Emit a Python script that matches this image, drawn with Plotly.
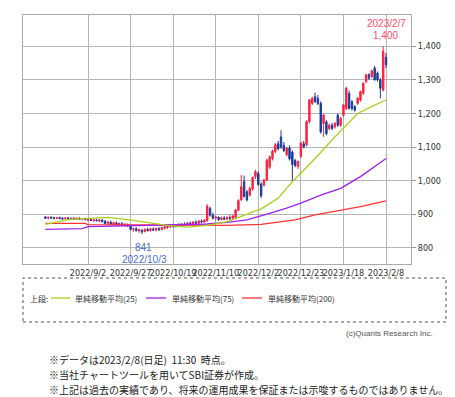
import pandas as pd
import plotly.graph_objects as go

# ---- trading calendar (TSE) ----
holidays = ["2022-09-19", "2022-09-23", "2022-10-10", "2022-11-03", "2022-11-23",
            "2023-01-02", "2023-01-03", "2023-01-09"]
days = [d for d in pd.bdate_range("2022-08-12", "2023-02-08") if d.strftime("%Y-%m-%d") not in holidays]
dates = [f"{d.year}/{d.month}/{d.day}" for d in days]

tick_dates = ["2022/9/2", "2022/9/27", "2022/10/19", "2022/11/10", "2022/12/2",
              "2022/12/23", "2023/1/18", "2023/2/8"]

# ---- OHLC ----
opens = [892, 889, 891, 890, 888, 890, 888, 887, 889, 887, 888, 886, 888, 886, 887,
         882, 884, 881, 883, 880, 882,
         879, 873, 876, 870, 874, 869, 872, 868, 869,
         864, 855, 857, 851, 852, 849, 855, 852, 856, 853, 857, 855, 859, 861, 863,
         866, 865, 868, 866, 870, 869, 873, 872, 876, 874, 879, 877,
         881, 918, 898, 889, 891, 885, 889, 886, 890, 888,
         890, 912, 943, 997, 967, 957, 975, 1012, 1022, 990,
         987, 1002, 1040, 1066, 1087, 1110, 1130, 1105, 1077, 1097,
         1085, 1060, 1042, 1072, 1110, 1107, 1176, 1230, 1250, 1245,
         1230, 1170, 1175, 1155, 1165, 1160, 1195, 1165, 1195, 1215,
         1260, 1235, 1220, 1230, 1240, 1260, 1295, 1315, 1310, 1335,
         1320, 1300, 1270, 1367]
highs = [895, 893, 894, 893, 892, 893, 891, 891, 892, 890, 891, 890, 891, 889, 890,
         887, 888, 886, 887, 885, 886,
         883, 880, 881, 878, 879, 876, 877, 874, 873,
         868, 860, 861, 857, 856, 858, 860, 859, 861, 860, 862, 863, 865, 867, 870,
         872, 871, 873, 874, 876, 877, 879, 880, 882, 883, 885, 886,
         930, 922, 905, 896, 894, 893, 895, 894, 897, 898,
         916, 945, 1017, 1015, 972, 982, 1012, 1032, 1028, 995,
         1005, 1065, 1075, 1092, 1112, 1118, 1150, 1115, 1100, 1105,
         1090, 1065, 1060, 1116, 1118, 1180, 1243, 1250, 1262, 1255,
         1236, 1198, 1180, 1170, 1172, 1175, 1200, 1190, 1228, 1280,
         1268, 1240, 1225, 1248, 1268, 1293, 1318, 1320, 1330, 1342,
         1325, 1305, 1400, 1380]
lows = [886, 885, 887, 886, 885, 886, 884, 884, 885, 884, 884, 883, 884, 882, 883,
        879, 880, 878, 879, 877, 876,
        870, 866, 868, 866, 867, 864, 865, 863, 862,
        852, 848, 849, 845, 841, 846, 849, 848, 850, 849, 851, 852, 854, 856, 859,
        861, 860, 862, 863, 865, 866, 868, 869, 871, 872, 874, 875,
        878, 893, 885, 882, 880, 881, 883, 882, 884, 886,
        887, 909, 940, 950, 938, 952, 970, 1005, 985, 948,
        982, 998, 1035, 1060, 1082, 1090, 1095, 1085, 1072, 1060,
        998, 1040, 1035, 1068, 1096, 1102, 1170, 1225, 1232, 1225,
        1140, 1130, 1135, 1150, 1150, 1155, 1160, 1160, 1190, 1210,
        1212, 1208, 1205, 1225, 1235, 1255, 1290, 1300, 1305, 1298,
        1295, 1245, 1265, 1335]
closes = [888, 891, 889, 887, 890, 887, 886, 889, 886, 888, 885, 888, 885, 887, 884,
          885, 882, 884, 881, 883, 878,
          872, 877, 870, 875, 869, 873, 867, 870, 866,
          855, 857, 851, 854, 848, 855, 851, 857, 853, 858, 854, 860, 862, 864, 867,
          864, 869, 866, 871, 868, 874, 871, 877, 874, 880, 877, 882,
          924, 897, 888, 892, 884, 890, 885, 891, 887, 895,
          913, 941, 982, 953, 943, 977, 1010, 1027, 988, 955,
          1002, 1061, 1070, 1088, 1107, 1095, 1100, 1090, 1097, 1065,
          1048, 1045, 1057, 1112, 1100, 1176, 1240, 1245, 1235, 1230,
          1145, 1195, 1140, 1165, 1155, 1170, 1165, 1185, 1225, 1275,
          1215, 1215, 1210, 1245, 1265, 1290, 1315, 1305, 1327, 1300,
          1300, 1275, 1385, 1345]

# ---- moving averages (read at selected trading-day positions) ----
ma25_idx = [0, 8, 15, 22, 29, 36, 43, 50, 57, 64, 71, 76, 82, 87, 94, 100, 102, 110, 114, 116, 120]
ma25_val = [870, 884, 888, 891, 884, 875, 867, 862, 867, 878, 899, 916, 948, 997, 1057, 1112, 1130, 1200, 1218, 1225, 1240]
ma75_idx = [0, 13, 15, 36, 45, 57, 64, 71, 79, 85, 90, 97, 104, 111, 120]
ma75_val = [855, 857, 863, 867, 869, 871, 876, 883, 903, 918, 933, 957, 977, 1012, 1066]
ma200_idx = [0, 14, 15, 57, 64, 76, 88, 95, 105, 111, 120]
ma200_val = [873, 873, 869, 868, 867, 870, 883, 898, 913, 923, 940]

y_ticks = [800, 900, 1000, 1100, 1200, 1300, 1400]

hi_label = ("2023/2/7", "1,400")
lo_label = ("841", "2022/10/3")

legend_labels = ["単純移動平均(25)", "単純移動平均(75)", "単純移動平均(200)"]
notes = ["※データは2023/2/8(日足)  11:30  時点。",
         "※当社チャートツールを用いてSBI証券が作成。",
         "※上記は過去の実績であり、将来の運用成果を保証または示唆するものではありません。"]

C25, C75, C200 = "#a6d21e", "#a020f0", "#ff3333"
UP, DOWN = "#ff1f3d", "#1c3a9c"

# ---- plot geometry (pixels) ----
W, H = 455, 397
L, R, T, B = 15, 403, 7, 256


def X(px):
    return (px - L) / (R - L)


def Y(py):
    return (B - py) / (B - T)


fig = go.Figure()
fig.add_trace(go.Candlestick(
    x=dates, open=opens, high=highs, low=lows, close=closes,
    increasing=dict(line=dict(color=UP, width=1), fillcolor=UP),
    decreasing=dict(line=dict(color=DOWN, width=1), fillcolor=DOWN),
    whiskerwidth=0, showlegend=False, hoverinfo="skip"))
for idx, val, col in [(ma200_idx, ma200_val, C200), (ma75_idx, ma75_val, C75), (ma25_idx, ma25_val, C25)]:
    fig.add_trace(go.Scatter(x=[dates[i] for i in idx], y=val, mode="lines",
                             line=dict(color=col, width=1.3), showlegend=False, hoverinfo="skip"))

tickfont = dict(family="Liberation Sans Narrow, Arial Narrow, DejaVu Sans Condensed, Arial, sans-serif",
                size=9, color="#333")

fig.update_layout(
    width=W, height=H, margin=dict(l=L, r=W - R, t=T, b=H - B),
    paper_bgcolor="white", plot_bgcolor="white", showlegend=False,
    xaxis=dict(type="category", categoryorder="array", categoryarray=dates,
               range=[-7.9, 128.8], rangeslider=dict(visible=False),
               tickmode="array", tickvals=tick_dates, ticktext=tick_dates, tickangle=0,
               showgrid=True, gridcolor="#b5b5b5", gridwidth=1,
               showline=True, linecolor="#aaaaaa", mirror=True, ticks="",
               tickfont=tickfont, automargin=False),
    yaxis=dict(side="right", range=[752, 1493], tickmode="array", tickvals=y_ticks,
               ticktext=[f"{v:,}" for v in y_ticks],
               showgrid=True, gridcolor="#b5b5b5", gridwidth=1,
               showline=True, linecolor="#aaaaaa", mirror=True,
               ticks="outside", ticklen=4, tickcolor="#999", tickfont=tickfont,
               zeroline=False, automargin=False),
)

ann = []
# high / low labels
hi_i = highs.index(max(highs))
lo_i = lows.index(min(lows))
ann.append(dict(x=dates[hi_i], y=max(highs), xref="x", yref="y", text=hi_label[0], showarrow=False,
                yanchor="bottom", yshift=15, xshift=3, font=dict(family="Arial", size=10, color="#ff4d6a")))
ann.append(dict(x=dates[hi_i], y=max(highs), xref="x", yref="y", text=hi_label[1], showarrow=False,
                yanchor="bottom", yshift=3, xshift=2, font=dict(family="Arial", size=10, color="#ff4d6a")))
ann.append(dict(x=dates[lo_i], y=min(lows), xref="x", yref="y", text=lo_label[0], showarrow=False,
                yanchor="top", yshift=-6, xshift=2, font=dict(family="Arial", size=10, color="#4a6fd0")))
ann.append(dict(x=dates[lo_i], y=min(lows), xref="x", yref="y", text=lo_label[1], showarrow=False,
                yanchor="top", yshift=-18, xshift=3, font=dict(family="Arial", size=10, color="#4a6fd0")))

shapes = []
# legend box
shapes.append(dict(type="rect", xref="paper", yref="paper", x0=X(15), x1=X(438), y0=Y(314), y1=Y(270),
                   line=dict(color="#555", width=1, dash="dot"), fillcolor="rgba(0,0,0,0)"))
legfont = dict(family="Noto Sans CJK JP", size=8, color="#333")
ann.append(dict(x=X(20), y=Y(290), xref="paper", yref="paper", text="上段:", showarrow=False,
                xanchor="left", yanchor="middle", font=legfont))
for (x0, x1, tx), lab, col in zip([(43, 62, 65), (138, 158, 162), (234, 254, 258)], legend_labels, [C25, C75, C200]):
    shapes.append(dict(type="line", xref="paper", yref="paper", x0=X(x0), x1=X(x1), y0=Y(290), y1=Y(290),
                       line=dict(color=col, width=1.3)))
    ann.append(dict(x=X(tx), y=Y(290), xref="paper", yref="paper", text=lab, showarrow=False,
                    xanchor="left", yanchor="middle", font=legfont))
ann.append(dict(x=X(427), y=Y(325), xref="paper", yref="paper", text="(c)Quants Research Inc.", showarrow=False,
                xanchor="right", yanchor="middle", font=dict(family="Arial", size=8, color="#555")))
for i, t in enumerate(notes):
    ann.append(dict(x=X(39), y=Y(351 + 15 * i), xref="paper", yref="paper", text=t, showarrow=False,
                    xanchor="left", yanchor="middle", font=dict(family="Noto Sans CJK JP", size=10, color="#222")))

fig.update_layout(annotations=ann, shapes=shapes)
fig.write_html("out.html")
